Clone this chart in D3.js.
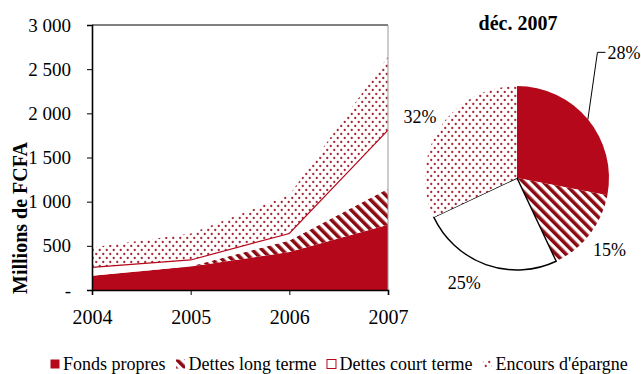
<!DOCTYPE html>
<html lang="fr">

<head>
    <meta charset="UTF-8">
    <script src="https://cdn.jsdelivr.net/npm/d3@7"></script>
    <title>Structure du financement</title>
    <style>
        body { margin: 0; background: #fff; }
        svg, svg text { font-family: "Liberation Serif", "Times New Roman", serif; }
        svg { display: block; }
    </style>
</head>

<body>
    <div id="chart"></div>
    <script>
        // Data (millions de FCFA)
        const years = [2004, 2005, 2006, 2007];
        const fondsPropres = [160, 265, 430, 740];
        const dettesLongTerme = [0, 5, 130, 405];
        const dettesCourtTerme = [96, 70, 80, 665];
        const encoursEpargne = [224, 300, 435, 830];
        const seriesKeys = ["fonds", "lt", "ct", "epargne"];
        const seriesNames = ["Fonds propres", "Dettes long terme", "Dettes court terme", "Encours d'épargne"];
        const yTicks = [0, 500, 1000, 1500, 2000, 2500, 3000];

        // Pie déc. 2007 (%)
        const pieTitle = "déc. 2007";
        const pieShares = [28, 15, 25, 32];

        // Dimensions
        const width = 641;
        const height = 374;
        const plot = { left: 92, right: 388, top: 25, bottom: 290 };
        const pieCenter = { x: 517, y: 178 };
        const pieRadius = 92;
        const red = "#b5091b";
        const darkRed = "#8b0a12";

        const rows = years.map((yr, i) => ({
            year: yr,
            fonds: fondsPropres[i],
            lt: dettesLongTerme[i],
            ct: dettesCourtTerme[i],
            epargne: encoursEpargne[i]
        }));

        const svg = d3.select("#chart")
            .append("svg")
            .attr("width", width)
            .attr("height", height);

        // Patterns
        const defs = svg.append("defs");
        const stripes = defs.append("pattern")
            .attr("id", "stripes")
            .attr("patternUnits", "userSpaceOnUse")
            .attr("width", 7)
            .attr("height", 7)
            .attr("patternTransform", "rotate(-45)");
        stripes.append("rect").attr("width", 7).attr("height", 7).attr("fill", "#fff");
        stripes.append("rect").attr("width", 3.6).attr("height", 7).attr("fill", darkRed);

        const dots = defs.append("pattern")
            .attr("id", "dots")
            .attr("patternUnits", "userSpaceOnUse")
            .attr("width", 7)
            .attr("height", 8);
        dots.append("rect").attr("width", 7).attr("height", 8).attr("fill", "#fff");
        dots.append("circle").attr("cx", 1.75).attr("cy", 2).attr("r", 1.15).attr("fill", "#a52a36");
        dots.append("circle").attr("cx", 5.25).attr("cy", 6).attr("r", 1.15).attr("fill", "#a52a36");

        const fills = {
            fonds: red,
            lt: "url(#stripes)",
            ct: "#fff",
            epargne: "url(#dots)"
        };

        // Scales
        const x = d3.scaleLinear()
            .domain(d3.extent(years))
            .range([plot.left, plot.right]);

        const y = d3.scaleLinear()
            .domain([0, 3000])
            .range([plot.bottom, plot.top]);

        // Stacked areas
        const stacked = d3.stack().keys(seriesKeys)(rows);

        const area = d3.area()
            .x(d => x(d.data.year))
            .y0(d => y(d[0]))
            .y1(d => y(d[1]));

        svg.append("g")
            .selectAll("path")
            .data(stacked)
            .join("path")
            .attr("d", area)
            .attr("fill", d => fills[d.key]);

        // red line on top of short-term debts
        svg.append("path")
            .datum(stacked[2])
            .attr("d", d3.line().x(d => x(d.data.year)).y(d => y(d[1])))
            .attr("fill", "none")
            .attr("stroke", red)
            .attr("stroke-width", 1.2);

        // Frame
        svg.append("line")
            .attr("x1", plot.left).attr("x2", plot.right)
            .attr("y1", plot.top).attr("y2", plot.top)
            .attr("stroke", "#000").attr("stroke-width", 1);
        svg.append("line")
            .attr("x1", plot.right).attr("x2", plot.right)
            .attr("y1", plot.top).attr("y2", plot.bottom)
            .attr("stroke", "#999").attr("stroke-width", 1);

        // Axes
        const fr = d3.formatLocale({ decimal: ",", thousands: " ", grouping: [3], currency: ["", ""] });
        const fmt = fr.format(",");

        svg.append("g")
            .attr("transform", `translate(${plot.left},0)`)
            .call(d3.axisLeft(y).tickValues(yTicks).tickSize(5).tickPadding(16)
                .tickFormat(d => d === 0 ? "-" : fmt(d)))
            .attr("font-family", null)
            .call(g => g.select(".domain").attr("stroke", "#000").attr("stroke-width", 1.6))
            .call(g => g.selectAll("line").attr("stroke", "#000"))
            .selectAll("text")
            .attr("fill", "#000")
            .style("font-size", "19px");

        svg.append("g")
            .attr("transform", `translate(0,${plot.bottom})`)
            .call(d3.axisBottom(x).tickValues(years).tickSize(5).tickPadding(15)
                .tickFormat(d3.format("d")))
            .attr("font-family", null)
            .call(g => g.select(".domain").attr("stroke", "#000").attr("stroke-width", 1.6))
            .call(g => g.selectAll("line").attr("stroke", "#000"))
            .selectAll("text")
            .attr("fill", "#000")
            .style("font-size", "20px");

        svg.append("text")
            .attr("transform", `translate(27,218) rotate(-90)`)
            .attr("text-anchor", "middle")
            .style("font-size", "20px")
            .style("font-weight", "bold")
            .text("Millions de FCFA");

        // Pie
        const pieG = svg.append("g")
            .attr("transform", `translate(${pieCenter.x},${pieCenter.y})`);

        const arcs = d3.pie().sort(null)(pieShares);
        const arc = d3.arc().innerRadius(0).outerRadius(pieRadius);

        pieG.selectAll("path")
            .data(arcs)
            .join("path")
            .attr("d", arc)
            .attr("fill", (d, i) => fills[seriesKeys[i]])
            .attr("stroke", (d, i) => i === 2 ? "#000" : "none")
            .attr("stroke-width", 1.4);

        svg.append("text")
            .attr("x", pieCenter.x + 1)
            .attr("y", 30)
            .attr("text-anchor", "middle")
            .style("font-size", "20px")
            .style("font-weight", "bold")
            .text(pieTitle);

        // Pie labels
        const labelR = [165, 117, 117, 115];
        const labelShift = [-10, 0, 7, 0];
        const midAngle = d => (d.startAngle + d.endAngle) / 2;

        arcs.forEach((d, i) => {
            const a = midAngle(d) + labelShift[i] * Math.PI / 180;
            const lx = Math.sin(a) * labelR[i];
            const ly = -Math.cos(a) * labelR[i];
            const t = pieG.append("text")
                .attr("x", lx)
                .attr("y", ly)
                .attr("dy", "0.35em")
                .attr("text-anchor", "middle")
                .style("font-size", "18px")
                .text(d.data + "%");
            if (labelR[i] > 140) {
                const w = t.node().getComputedTextLength();
                const m = midAngle(d);
                const start = lx - w / 2;
                pieG.append("polyline")
                    .attr("points", [
                        [Math.sin(m) * pieRadius, -Math.cos(m) * pieRadius],
                        [start - 10, ly],
                        [start - 2, ly]
                    ].join(" "))
                    .attr("fill", "none")
                    .attr("stroke", "#000")
                    .attr("stroke-width", 1);
            }
        });

        // Legend
        const legend = svg.append("g")
            .attr("transform", "translate(50,364)");
        let lx = 0;
        seriesNames.forEach((name, i) => {
            const key = seriesKeys[i];
            legend.append("rect")
                .attr("x", lx + 0.5)
                .attr("y", -4.5)
                .attr("width", 9)
                .attr("height", 9)
                .attr("fill", fills[key])
                .attr("stroke", key === "ct" ? red : "none")
                .attr("stroke-width", 1);
            const t = legend.append("text")
                .attr("x", lx + 13)
                .attr("y", 0)
                .attr("dy", "0.33em")
                .style("font-size", "18px")
                .text(name);
            lx += 13 + t.node().getComputedTextLength() + 10;
        });
    </script>
</body>

</html>
